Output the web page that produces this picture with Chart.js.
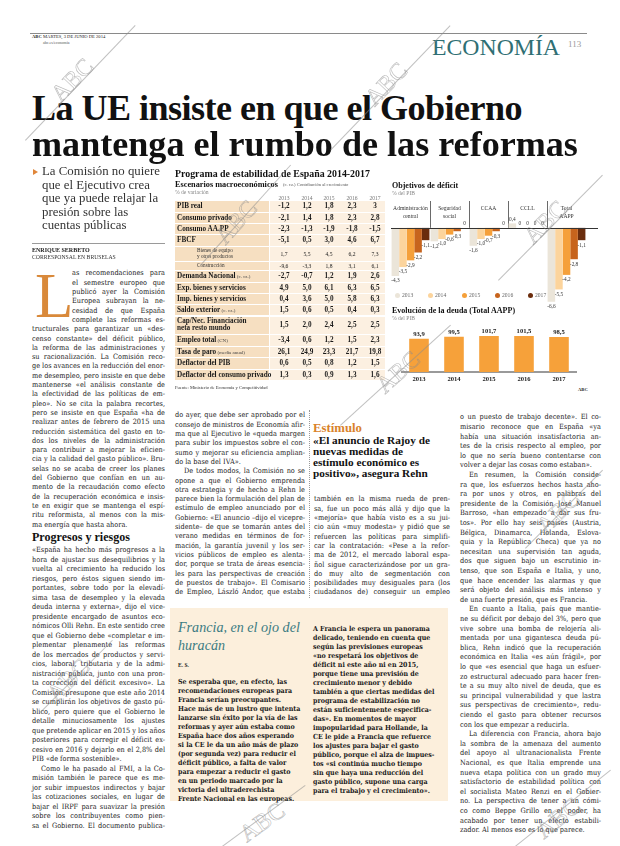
<!DOCTYPE html>
<html lang="es">
<head>
<meta charset="utf-8">
<title>La UE insiste en que el Gobierno mantenga el rumbo de las reformas</title>
<script src="https://cdn.jsdelivr.net/npm/chart.js@4.4.1/dist/chart.umd.min.js"></script>
<style>
  html, body { margin: 0; padding: 0; background: #fff; }
  #page { position: relative; width: 620px; height: 846px; overflow: hidden; font-family: "Liberation Serif", serif; color: #222; }
  #page div, #page span, #page canvas { position: absolute; }
</style>
</head>
<body>
<div id="page">
  <canvas id="deficitChart" width="226" height="125" style="left:386px;top:196px"></canvas>
  <canvas id="debtChart" width="200" height="64" style="left:390px;top:322px"></canvas>
</div>
<script>
// --- datos de los gráficos ---
const deficitGroups = [['Administración', 'central'], ['Seguridad', 'social'], ['CCAA'], ['CCLL'], ['Total', 'AAPP']];
const deficitYears = ['2013', '2014', '2015', '2016', '2017'];
const deficit2013 = [-4.3, -1.2, -1.6, 0.4, -6.6];
const deficit2014 = [-3.5, -1.0, -1.0, 0, -5.5];
const deficit2015 = [-2.9, -0.6, -0.7, 0, -4.2];
const deficit2016 = [-2.2, -0.3, -0.3, 0, -2.8];
const deficit2017 = [-1.1, 0, 0, 0, -1.1];
const deficitColors = ['#ebe5d9', '#fcd49c', '#f5a03a', '#c7641d', '#6b2d0d'];

const debtYears = ['2013', '2014', '2015', '2016', '2017'];
const debtValues = [93.9, 99.5, 101.7, 101.5, 98.5];

// --- tabla: escenarios macroeconómicos ---
const tableYears = ['2013', '2014', '2015', '2016', '2017'];
const tableLabels = ['PIB real', 'Consumo privado', 'Consumo AA.PP', 'FBCF', 'Bienes de equipo\ny otros productos', 'Construcción',
  'Demanda Nacional', 'Exp. bienes y servicios', 'Imp. bienes y servicios', 'Saldo exterior', 'Cap/Nec. Financiación\nneta resto mundo',
  'Empleo total', 'Tasa de paro', 'Deflactor del PIB', 'Deflactor del consumo privado'];
const tableNotes = ['', '', '', '', '', '', '(c. cz.)', '', '', '(c. cz.)', '', '(CN)', '(media anual)', '', ''];
const tableValues = [
  ['-1,2', '1,2', '1,8', '2,3', '3'],
  ['-2,1', '1,4', '1,8', '2,3', '2,8'],
  ['-2,3', '-1,3', '-1,9', '-1,8', '-1,5'],
  ['-5,1', '0,5', '3,0', '4,6', '6,7'],
  ['1,7', '5,5', '4,5', '6,2', '7,3'],
  ['-9,6', '-3,3', '1,8', '3,1', '6,1'],
  ['-2,7', '-0,7', '1,2', '1,9', '2,6'],
  ['4,9', '5,0', '6,1', '6,3', '6,5'],
  ['0,4', '3,6', '5,0', '5,8', '6,3'],
  ['1,5', '0,6', '0,5', '0,4', '0,3'],
  ['1,5', '2,0', '2,4', '2,5', '2,5'],
  ['-3,4', '0,6', '1,2', '1,5', '2,3'],
  ['26,1', '24,9', '23,3', '21,7', '19,8'],
  ['0,6', '0,5', '0,8', '1,2', '1,5'],
  ['1,3', '0,3', '0,9', '1,3', '1,6']
];
const tableSubRows = [4, 5];

// --- textos ---
const col1a = `as recomendaciones para
el semestre europeo que
publicó ayer la Comisión
Europea subrayan la ne-
cesidad de que España
complete las reformas es-`;
const col1b = `tructurales para garantizar un «des-
censo constante» del déficit público,
la reforma de las administraciones y
su racionalización. La Comisión reco-
ge los avances en la reducción del enor-
me desempleo, pero insiste en que debe
mantenerse «el análisis constante de
la efectividad de las políticas de em-
pleo». No se cita la palabra recortes,
pero se insiste en que España «ha de
realizar antes de febrero de 2015 una
reducción sistemática del gasto en to-
dos los niveles de la administración
para contribuir a mejorar la eficien-
cia y la calidad del gasto público». Bru-
selas no se acaba de creer los planes
del Gobierno que confían en un au-
mento de la recaudación como efecto
de la recuperación económica e insis-
te en exigir que se mantenga el espí-
ritu reformista, al menos con la mis-
ma energía que hasta ahora.~`;
const col1c = `«España ha hecho más progresos a la
hora de ajustar sus desequilibrios y la
vuelta al crecimiento ha reducido los
riesgos, pero éstos siguen siendo im-
portantes, sobre todo por la elevadí-
sima tasa de desempleo y la elevada
deuda interna y externa», dijo el vice-
presidente encargado de asuntos eco-
nómicos Olli Rehn. En este sentido cree
que el Gobierno debe «completar e im-
plementar plenamente las reformas
de los mercados de productos y servi-
cios, laboral, tributaria y de la admi-
nistración pública, junto con una pron-
ta corrección del déficit excesivo». La
Comisión presupone que este año 2014
se cumplirán los objetivos de gasto pú-
blico, pero quiere que el Gobierno le
detalle minuciosamente los ajustes
que pretende aplicar en 2015 y los años
posteriores para corregir el déficit ex-
cesivo en 2016 y dejarlo en el 2,8% del
PIB «de forma sostenible».~
>Como le ha pasado al FMI, a la Co-
misión también le parece que es me-
jor subir impuestos indirectos y bajar
las cotizaciones sociales, en lugar de
bajar el IRPF para suavizar la presión
sobre los contribuyentes como pien-
sa el Gobierno. El documento publica-`;
const col2 = `do ayer, que debe ser aprobado por el
consejo de ministros de Economía afir-
ma que al Ejecutivo le «queda margen
para subir los impuestos sobre el con-
sumo y mejorar su eficiencia amplian-
do la base del IVA».~
>De todos modos, la Comisión no se
opone a que el Gobierno emprenda
otra estrategia y de hecho a Rehn le
parece bien la formulación del plan de
estímulo de empleo anunciado por el
Gobierno: «El anuncio –dijo el vicepre-
sidente– de que se tomarán antes del
verano medidas en términos de for-
mación, la garantía juvenil y los ser-
vicios públicos de empleo es alenta-
dor, porque se trata de áreas esencia-
les para las perspectivas de creación
de puestos de trabajo». El Comisario
de Empleo, László Andor, que estaba`;
const col3 = `también en la misma rueda de pren-
sa, fue un poco más allá y dijo que la
«mejoría» que había visto es a su jui-
cio aún «muy modesta» y pidió que se
refuercen las políticas para simplifi-
car la contratación: «Pese a la refor-
ma de 2012, el mercado laboral espa-
ñol sigue caracterizándose por un gra-
do muy alto de segmentación con
posibilidades muy desiguales para (los
ciudadanos de) conseguir un empleo`;
const col4 = `o un puesto de trabajo decente». El co-
misario reconoce que en España «ya
había una situación insatisfactoria an-
tes de la crisis respecto al empleo, por
lo que no sería bueno contentarse con
volver a dejar las cosas como estaban».~
>En resumen, la Comisión conside-
ra que, los esfuerzos hechos hasta aho-
ra por unos y otros, en palabras del
presidente de la Comisión José Manuel
Barroso, «han empezado a dar sus fru-
tos». Por ello hay seis países (Austria,
Bélgica, Dinamarca, Holanda, Eslova-
quia y la República Checa) que ya no
necesitan una supervisión tan aguda,
dos que siguen bajo un escrutinio in-
tenso, que son España e Italia, y uno,
que hace encender las alarmas y que
será objeto del análisis más intenso y
de una fuerte presión, que es Francia.~
>En cuanto a Italia, país que mantie-
ne su déficit por debajo del 3%, pero que
vive sobre una bomba de relojería ali-
mentada por una gigantesca deuda pú-
blica, Rehn indicó que la recuperación
económica en Italia «es aún frágil», por
lo que «es esencial que haga un esfuer-
zo estructural adecuado para hacer fren-
te a su muy alto nivel de deuda, que es
su principal vulnerabilidad y que lastra
sus perspectivas de crecimiento», redu-
ciendo el gasto para obtener recursos
con los que empezar a reducirla.~
>La diferencia con Francia, ahora bajo
la sombra de la amenaza del aumento
del apoyo al ultranacionalista Frente
Nacional, es que Italia emprende una
nueva etapa política con un grado muy
satisfactorio de estabilidad política con
el socialista Mateo Renzi en el Gobier-
no. La perspectiva de tener a un cómi-
co como Beppe Grillo en el poder, ha
acabado por tener un efecto estabili-
zador. Al menos eso es lo que parece.~`;
const franciaA = `Se esperaba que, en efecto, las
recomendaciones europeas para
Francia serían preocupantes.
Hace más de un lustro que intenta
lanzarse sin éxito por la vía de las
reformas y ayer aún estaba como
España hace dos años esperando
si la CE le da un año más de plazo
(por segunda vez) para reducir el
déficit público, a falta de valor
para empezar a reducir el gasto
en un periodo marcado por la
victoria del ultraderechista
Frente Nacional en las europeas.`;
const franciaB = `A Francia le espera un panorama
delicado, teniendo en cuenta que
según las previsiones europeas
«no respetará los objetivos de
déficit ni este año ni en 2015,
porque tiene una previsión de
crecimiento menor y debido
también a que ciertas medidas del
programa de estabilización no
están suficientemente especifica-
das». En momentos de mayor
impopularidad para Hollande, la
CE le pide a Francia que refuerce
los ajustes para bajar el gasto
público, porque el alza de impues-
tos «si continúa mucho tiempo
sin que haya una reducción del
gasto público, supone una carga
para el trabajo y el crecimiento».`;

const page = document.getElementById('page');

function put(text, x, y, css) {
  const el = document.createElement('span');
  el.textContent = text;
  el.style.cssText = 'white-space:nowrap;left:' + x + 'px;top:' + y + 'px;' + (css || '');
  page.appendChild(el);
  return el;
}

function box(x, y, w, h, css) {
  const el = document.createElement('div');
  el.style.cssText = 'left:' + x + 'px;top:' + y + 'px;width:' + w + 'px;height:' + h + 'px;' + (css || '');
  page.appendChild(el);
  return el;
}

function fitWidth(el, target) {
  const w = el.getBoundingClientRect().width;
  const fs = parseFloat(getComputedStyle(el).fontSize);
  const nf = fs * target / w;
  el.style.fontSize = nf + 'px';
  return nf;
}

// one span per printed line; justified unless marked with ~
function textLines(src, x, top, width, lh, css, justify) {
  src.split('\n').forEach((raw, i) => {
    let t = raw, ind = 0, just = justify;
    if (t.startsWith('>')) { t = t.slice(1); ind = 9; }
    if (t.endsWith('~')) { t = t.slice(0, -1); just = false; }
    const el = put(t, x + ind, top + i * lh, 'line-height:' + lh + 'px;' + css);
    const avail = width - ind;
    const w = el.getBoundingClientRect().width;
    const gaps = (t.match(/ /g) || []).length;
    if (w > avail) el.style.letterSpacing = ((avail - w) / t.length) + 'px';
    else if (just && gaps) el.style.wordSpacing = ((avail - w) / gaps) + 'px';
  });
}

function watermark(x1, y1, x2, y2, tx, ty) {
  const len = Math.hypot(x2 - x1, y2 - y1);
  const ang = Math.atan2(y2 - y1, x2 - x1) * 180 / Math.PI;
  box(x1, y1, len, 0.7, 'background:rgba(140,140,140,0.55);transform-origin:0 0;transform:rotate(' + ang + 'deg);');
  const t = put('ABC', tx, ty, 'font-size:24px;line-height:1;color:transparent;-webkit-text-stroke:0.6px rgba(140,140,140,0.6);');
  t.style.transform = 'translate(-50%,-50%) rotate(' + ang + 'deg)';
}

// --- cabecera ---
box(30, 33, 557, 1, 'background:#8a8a8a;');
put('ABC', 32, 35, 'font-size:4.6px;font-weight:bold;line-height:1;');
put('MARTES, 3 DE JUNIO DE 2014', 43, 35, 'font-size:4.6px;line-height:1;');
put('abc.es/economia', 43, 40.5, 'font-size:4px;line-height:1;color:#555;');
const eco = put('ECONOMÍA', 432, 36, 'font-size:28px;line-height:1;color:#2f6f74;');
fitWidth(eco, 128);
put('113', 568, 40, 'font-size:9px;line-height:1;color:#9a9a9a;');

// --- titular ---
const h1a = put('La UE insiste en que el Gobierno', 32, 92, 'font-size:40px;font-weight:bold;line-height:32px;color:#111;');
const h1b = put('mantenga el rumbo de las reformas', 32, 128, 'font-size:40px;font-weight:bold;line-height:32px;color:#111;');
const hf = fitWidth(h1b, 546);
h1a.style.fontSize = hf + 'px';
const h1w = h1a.getBoundingClientRect().width;
h1a.style.letterSpacing = ((490 - h1w) / h1a.textContent.length) + 'px';

// --- subtítulo y firma ---
box(33, 168.5, 0, 0, 'border-left:5px solid #e0863a;border-top:3.5px solid transparent;border-bottom:3.5px solid transparent;');
const subLines = ['La Comisión no quiere', 'que el Ejecutivo crea', 'que ya puede relajar la', 'presión sobre las', 'cuentas públicas'];
const s0 = put(subLines[0], 42, 165, 'font-size:13px;line-height:13.5px;color:#333;');
const sf = fitWidth(s0, 118);
subLines.slice(1).forEach((t, i) => put(t, 42, 165 + (i + 1) * 13.5, 'font-size:' + sf + 'px;line-height:13.5px;color:#333;'));
box(32, 243, 133, 1, 'background:#9a9a9a;');
put('ENRIQUE SERBETO', 32, 247, 'font-size:6px;font-weight:bold;line-height:1;');
const corr = put('CORRESPONSAL EN BRUSELAS', 32, 255, 'font-size:6px;line-height:1;color:#333;');
fitWidth(corr, 84);

// --- cuerpo ---
const bodyFont = 'font-family:"DejaVu Serif Condensed","DejaVu Serif",serif;font-stretch:condensed;';
const bodyCss = bodyFont + 'font-size:7.3px;color:#222;';
const L = 9.3;
put('L', 35, 274, 'font-size:63px;line-height:45px;color:#d9893a;');
textLines(col1a, 72, 268.4, 93, L, bodyCss, true);
textLines(col1b, 32, 268.4 + 6 * L, 133, L, bodyCss, true);
const prog = put('Progresos y riesgos', 32, 531, 'font-size:11px;font-weight:bold;line-height:1;color:#111;');
fitWidth(prog, 98);
textLines(col1c, 32, 545.4, 133, 9.5, bodyCss, true);
textLines(col2, 175, 410.4, 130, L, bodyCss, true);
box(309, 410, 0, 188, 'border-left:1px dotted #999;');
const est = put('Estímulo', 313, 422, 'font-size:10px;font-weight:bold;line-height:1;color:#d9822b;');
fitWidth(est, 49);
const quote = ['«El anuncio de Rajoy de', 'nuevas medidas de', 'estímulo económico es', 'positivo», asegura Rehn'];
const q0 = put(quote[0], 313, 435, 'font-size:11px;font-weight:bold;line-height:11px;color:#111;');
const qf = fitWidth(q0, 117);
quote.slice(1).forEach((t, i) => put(t, 313, 435 + (i + 1) * 11, 'font-size:' + qf + 'px;font-weight:bold;line-height:11px;color:#111;'));
textLines(col3, 314, 494.4, 136, L, bodyCss, true);
textLines(col4, 460, 412.4, 141, 9.6, bodyCss, true);

// --- despiece Francia ---
box(170, 608, 278, 193, 'background:#fcefdc;');
const fr1 = put('Francia, en el ojo del', 178, 620, 'font-size:17px;font-style:italic;line-height:1;color:#3b7b82;');
const frf = fitWidth(fr1, 122);
put('huracán', 178, 638, 'font-size:' + frf + 'px;font-style:italic;line-height:1;color:#3b7b82;');
put('E. S.', 178, 663, 'font-size:5.5px;font-weight:bold;line-height:1;');
const frCss = bodyFont + 'font-size:7px;font-weight:bold;color:#1a1a1a;';
textLines(franciaA, 178, 676.5, 124, 9, frCss, false);
textLines(franciaB, 313, 623.5, 134, 9, frCss, false);

// --- tabla ---
const tt = put('Programa de estabilidad de España 2014-2017', 175, 169, 'font-size:11px;font-weight:bold;line-height:1;color:#111;');
fitWidth(tt, 195);
const esc = put('Escenarios macroeconómicos', 175, 181, 'font-size:8px;font-weight:bold;line-height:1;color:#111;');
fitWidth(esc, 103);
put('(c. cz.) Contribución al crecimiento', 283, 183, 'font-size:4.6px;line-height:1;color:#555;');
put('% de variación', 175, 190, 'font-size:5.6px;line-height:1;color:#888;');
const colX = [284, 307, 329, 352, 375];
tableYears.forEach((y, i) => put(y, colX[i] - 10, 196, 'font-size:5.6px;line-height:1;color:#777;width:20px;text-align:center;'));
const rowH = [11.3, 11.3, 11.3, 11.3, 15, 9.7, 11.3, 11.3, 11.3, 11.3, 18.7, 11.5, 11.5, 11.5, 11.5];
let ry = 201.4;
tableLabels.forEach((lab, r) => {
  const h = rowH[r];
  const sub = tableSubRows.includes(r);
  box(175, ry, 94, h - 1, 'background:#f6dfc1;');
  box(270, ry, 115, h - 1, 'background:#fcf0e1;');
  const lines = lab.split('\n');
  if (sub) {
    const lh = 5.6;
    lines.forEach((t, k) => put(t, 197, ry + (h - 1 - lines.length * lh) / 2 + k * lh, 'font-size:5.2px;line-height:' + lh + 'px;color:#333;'));
  } else {
    const lh = lines.length > 1 ? 7.6 : h - 1;
    lines.forEach((t, k) => {
      const el = put(t, 177, ry + (lines.length > 1 ? (h - 1 - 2 * lh) / 2 : 0) + k * lh, 'font-size:7.2px;font-weight:bold;line-height:' + lh + 'px;color:#1a1a1a;');
      if (tableNotes[r]) {
        const n = document.createElement('span');
        n.style.cssText = 'position:static;font-size:5px;font-weight:normal;color:#444;';
        n.textContent = ' ' + tableNotes[r];
        el.appendChild(n);
      }
    });
  }
  tableValues[r].forEach((v, c) => put(v, colX[c] - 10, ry, 'width:20px;text-align:center;line-height:' + (h - 1) + 'px;color:#1a1a1a;' +
    (sub ? 'font-size:5.6px;' : 'font-size:7.2px;font-weight:bold;')));
  ry += h;
});
put('Fuente: Ministerio de Economía y Competitividad', 175, 385.5, 'font-size:4.6px;line-height:1;color:#333;');

// --- gráfico déficit ---
put('Objetivos de déficit', 392, 181.5, 'font-size:8px;font-weight:bold;line-height:1;color:#111;');
put('% del PIB', 392, 190.5, 'font-size:5.6px;line-height:1;color:#888;');
const legendX = [395, 428, 462, 495, 528];
deficitYears.forEach((y, i) => {
  box(legendX[i], 292.5, 5, 5, 'border-radius:50%;background:' + deficitColors[i] + ';');
  put(y, legendX[i] + 7, 292, 'font-size:5.6px;line-height:6px;color:#666;');
});

Chart.defaults.font.family = '"Liberation Serif", serif';
const fmt = v => v === 0 ? '0' : v.toFixed(1).replace('.', ',');

const deficitDecor = {
  id: 'deficitDecor',
  beforeDatasetsDraw(chart) {
    const { ctx, chartArea: a, scales: { x, y } } = chart;
    const y0 = y.getPixelForValue(0);
    const step = a.width / deficitGroups.length;
    ctx.save();
    ctx.strokeStyle = '#444';
    ctx.lineWidth = 0.8;
    for (let i = 1; i < deficitGroups.length; i++) {
      const px = Math.round(a.left + i * step) + 0.5;
      ctx.beginPath(); ctx.moveTo(px, a.top); ctx.lineTo(px, y0); ctx.stroke();
    }
    ctx.fillStyle = '#333';
    ctx.font = '5.6px "Liberation Serif"';
    ctx.textAlign = 'center';
    ctx.textBaseline = 'middle';
    deficitGroups.forEach((g, i) => {
      const cx = x.getPixelForValue(i);
      g.forEach((t, k) => ctx.fillText(t, cx, a.top + 8 + k * 8));
    });
    ctx.restore();
  },
  afterDatasetsDraw(chart) {
    const { ctx, chartArea: a, scales: { y } } = chart;
    const y0 = y.getPixelForValue(0);
    ctx.save();
    ctx.strokeStyle = '#333';
    ctx.lineWidth = 1;
    ctx.beginPath(); ctx.moveTo(a.left, Math.round(y0) + 0.5); ctx.lineTo(a.right + 12, Math.round(y0) + 0.5); ctx.stroke();
    ctx.fillStyle = '#333';
    ctx.font = '5.3px "Liberation Serif"';
    ctx.textAlign = 'center';
    ctx.textBaseline = 'middle';
    chart.data.datasets.forEach((ds, di) => {
      chart.getDatasetMeta(di).data.forEach((bar, j) => {
        const v = ds.data[j];
        ctx.fillText(fmt(v), bar.x, v < 0 ? bar.y + 5 : bar.y - 4);
      });
    });
    ctx.restore();
  }
};

new Chart(document.getElementById('deficitChart'), {
  type: 'bar',
  data: {
    labels: deficitGroups.map(g => g.join(' ')),
    datasets: [deficit2013, deficit2014, deficit2015, deficit2016, deficit2017].map((d, i) => ({
      label: deficitYears[i],
      data: d,
      backgroundColor: deficitColors[i],
      borderWidth: 0,
      categoryPercentage: 0.97,
      barPercentage: 1
    }))
  },
  options: {
    responsive: false,
    animation: false,
    layout: { padding: { left: 5, right: 26, top: 5, bottom: 17 } },
    plugins: { legend: { display: false }, tooltip: { enabled: false } },
    scales: {
      x: { display: false },
      y: { display: false, min: -6.8, max: 2.4 }
    }
  },
  plugins: [deficitDecor]
});

// --- gráfico deuda ---
put('Evolución de la deuda (Total AAPP)', 392, 307, 'font-size:8px;font-weight:bold;line-height:1;color:#111;');
put('% del PIB', 392, 316, 'font-size:5.6px;line-height:1;color:#888;');

const debtLabels = {
  id: 'debtLabels',
  afterDatasetsDraw(chart) {
    const { ctx } = chart;
    ctx.save();
    ctx.fillStyle = '#222';
    ctx.font = 'bold 6.6px "Liberation Serif"';
    ctx.textAlign = 'center';
    ctx.textBaseline = 'alphabetic';
    chart.getDatasetMeta(0).data.forEach((bar, i) => ctx.fillText(fmt(debtValues[i]), bar.x, bar.y - 3));
    ctx.restore();
  }
};

new Chart(document.getElementById('debtChart'), {
  type: 'bar',
  data: {
    labels: debtYears,
    datasets: [{ data: debtValues, backgroundColor: '#f6a13a', borderWidth: 0, categoryPercentage: 1, barPercentage: 0.56 }]
  },
  options: {
    responsive: false,
    animation: false,
    layout: { padding: { left: 11.5, right: 13.5, top: 11, bottom: 0 } },
    plugins: { legend: { display: false }, tooltip: { enabled: false } },
    scales: {
      x: {
        grid: { display: false, drawTicks: false },
        border: { display: true, color: '#9a9a9a', width: 2 },
        ticks: { color: '#222', padding: 3, font: { size: 6.6, weight: 'bold' } }
      },
      y: { display: false, min: 0, max: 110 }
    }
  },
  plugins: [debtLabels]
});
put('ABC', 578, 388, 'font-size:4.6px;font-weight:bold;line-height:1;');

// --- marcas de agua ---
watermark(25, 140, 135, 25, 72, 80);
watermark(330, 150, 450, 25, 386, 84);
watermark(200, 265, 290, 165, 236, 222);
watermark(498, 280, 602, 175, 545, 222);
watermark(340, 425, 450, 325, 398, 372);
watermark(525, 548, 602, 470, 558, 512);
watermark(40, 712, 112, 640, 68, 680);
watermark(222, 846, 305, 785, 262, 822);
watermark(515, 846, 610, 770, 558, 818);
</script>
</body>
</html>
